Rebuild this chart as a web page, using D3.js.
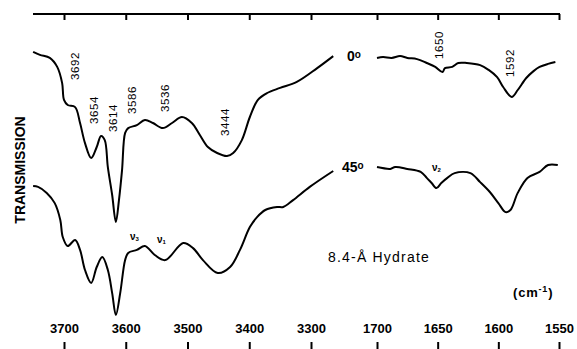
<!DOCTYPE html>
<html>
<head>
<meta charset="utf-8">
<script src="https://cdn.jsdelivr.net/npm/d3@7"></script>
<style>
  body { margin: 0; background: #fff; }
  svg { display: block; font-family: "Liberation Sans", Arial, Helvetica, sans-serif; }
</style>
</head>
<body>
<div class="canvas"></div>
<script>
const width = 577
const height = 349

// wavenumbers (cm-1) and transmission (arbitrary units, 0-100)
const hiWave0 = [3750, 3739, 3723, 3711, 3703, 3700, 3694, 3682, 3674, 3666, 3656, 3647, 3640, 3634, 3629, 3622, 3616, 3611, 3606, 3601, 3596, 3582, 3569, 3556, 3540, 3525, 3509, 3493, 3480, 3467, 3452, 3436, 3426, 3412, 3399, 3386, 3371, 3350, 3323, 3290, 3264]
const hiT0 = [92.7, 91.7, 90.7, 87.7, 82.3, 76.7, 75, 74.3, 69, 62.3, 57.3, 61, 64.7, 63.3, 54.3, 45, 36, 43.3, 53.3, 65.7, 67.3, 68.3, 70, 69, 67.3, 69, 71, 69, 65, 61, 59, 58, 59, 63.3, 71, 76.7, 79, 80.7, 82.7, 87.3, 91.3]

const hiWave45 = [3750, 3742, 3728, 3715, 3706, 3702, 3694, 3682, 3674, 3666, 3656, 3647, 3638, 3629, 3622, 3616, 3609, 3601, 3596, 3582, 3569, 3553, 3536, 3507, 3491, 3475, 3451, 3431, 3415, 3399, 3387, 3374, 3355, 3345, 3329, 3302, 3264]
const hiT45 = [48, 47.7, 45.7, 42.3, 36.7, 31, 28, 30, 26.7, 20, 15.7, 21, 24.3, 20, 12.3, 5, 12.3, 23.3, 25.7, 26.7, 28, 25, 23.3, 29, 27.3, 23.3, 19, 21, 26.7, 34.3, 37.7, 40, 41, 41, 43.3, 47.7, 53]

const loWave0 = [1700, 1695, 1688, 1681, 1675, 1667, 1659, 1652, 1646, 1644, 1638, 1633, 1626, 1615, 1608, 1601, 1596, 1589, 1584, 1577, 1571, 1566, 1559, 1553]
const loT0 = [90.7, 91, 90.7, 91.3, 90.7, 90.3, 89, 87.7, 86, 87.3, 87.7, 89, 89, 88.3, 86.7, 84.3, 81, 77.7, 80, 84, 86.3, 87.7, 88.7, 89.3]

const loWave45 = [1700, 1689, 1685, 1675, 1664, 1659, 1655, 1651, 1647, 1642, 1636, 1623, 1615, 1607, 1600, 1594, 1590, 1584, 1576, 1566, 1559, 1551]
const loT45 = [54.3, 53.7, 54.3, 53.7, 52.7, 50.7, 49, 47.3, 49, 50.7, 52.3, 52.3, 49.3, 46, 42.3, 39.3, 40, 45.7, 50.7, 52.7, 55, 55]

const hiTicks = [3700, 3600, 3500, 3400, 3300]
const loTicks = [1700, 1650, 1600, 1550]

// peak labels: [wavenumber, transmission of label centre, text]
const hiPeaks = [[3682, 88, "3692"], [3652, 73.3, "3654"], [3620, 70.7, "3614"], [3590, 76.7, "3586"], [3537, 77.3, "3536"], [3440, 69.3, "3444"]]
const loPeaks = [[1649, 95, "1650"], [1590, 89, "1592"]]

svg = d3.select(".canvas").append("svg")
    .attr("width", width)
    .attr("height", height)

const xHi = d3.scaleLinear().domain([3700, 3300]).range([64, 311])
const xLo = d3.scaleLinear().domain([1700, 1550]).range([377, 559])
const y = d3.scaleLinear().domain([0, 100]).range([330, 30])

function spectrum(x, waves, vals) {
    const pts = waves.map((w, i) => [w, vals[i]])
    const line = d3.line()
        .x(d => x(d[0]))
        .y(d => y(d[1]))
        .curve(d3.curveCatmullRom.alpha(0.5))
    svg.append("path")
        .datum(pts)
        .attr("d", line)
        .attr("fill", "none")
        .attr("stroke", "#000")
        .attr("stroke-width", 2)
        .attr("stroke-linejoin", "round")
}

spectrum(xHi, hiWave0, hiT0)
spectrum(xHi, hiWave45, hiT45)
spectrum(xLo, loWave0, loT0)
spectrum(xLo, loWave45, loT45)

// top frame line with inward ticks
svg.append("line")
    .attr("x1", 33).attr("x2", 560)
    .attr("y1", 14).attr("y2", 14)
    .attr("stroke", "#000").attr("stroke-width", 2)

function topTicks(x, ticks) {
    const g = svg.append("g")
        .attr("transform", "translate(0,14)")
        .call(d3.axisBottom(x).tickValues(ticks).tickSize(6).tickFormat(""))
    g.select(".domain").remove()
    g.selectAll("line").attr("stroke-width", 2)
}
topTicks(xHi, hiTicks)
topTicks(xLo, loTicks)

// bottom ticks with labels above
function bottomAxis(x, ticks) {
    const g = svg.append("g")
        .attr("transform", "translate(0,349)")
        .call(d3.axisTop(x).tickValues(ticks).tickSize(7).tickPadding(9).tickFormat(d3.format("d")))
    g.select(".domain").remove()
    g.selectAll("line").attr("stroke-width", 2)
    g.selectAll("text")
        .attr("font-size", 13)
        .attr("font-weight", "bold")
        .attr("font-family", "'Liberation Sans', Arial, sans-serif")
        .attr("fill", "#000")
}
bottomAxis(xHi, hiTicks)
bottomAxis(xLo, loTicks)

// vertical peak labels
function peakLabels(x, peaks) {
    svg.selectAll(null)
        .data(peaks)
        .enter()
        .append("text")
        .attr("transform", d => `translate(${x(d[0]) + 4},${y(d[1])}) rotate(-90)`)
        .attr("text-anchor", "middle")
        .attr("font-size", 11.5)
        .attr("letter-spacing", 0.6)
        .text(d => d[2])
}
peakLabels(xHi, hiPeaks)
peakLabels(xLo, loPeaks)

// y axis title
svg.append("text")
    .attr("transform", "translate(25,170) rotate(-90)")
    .attr("text-anchor", "middle")
    .attr("font-size", 14)
    .attr("font-weight", "bold")
    .text("TRANSMISSION")

// angle labels
function angle(xpos, ypos, txt) {
    const t = svg.append("text")
        .attr("x", xpos).attr("y", ypos)
        .attr("font-size", 14)
        .attr("font-weight", "bold")
    t.append("tspan").text(txt)
    t.append("tspan").attr("font-size", 10).attr("dy", -3).text("o")
}
angle(347, 61, "0")
angle(342, 172, "45")

// mode labels
function mode(xpos, ypos, sub) {
    const t = svg.append("text")
        .attr("x", xpos).attr("y", ypos)
        .attr("font-size", 10)
        .attr("font-weight", "bold")
    t.append("tspan").text("ν")
    t.append("tspan").attr("font-size", 6).attr("dy", 1).text(sub)
}
mode(130, 240, "3")
mode(157, 243, "1")
mode(432, 171, "2")

svg.append("text")
    .attr("x", 328).attr("y", 262)
    .attr("font-size", 14)
    .attr("letter-spacing", 1.2)
    .text("8.4-Å Hydrate")

const cm = svg.append("text")
    .attr("x", 513).attr("y", 297)
    .attr("font-size", 13)
    .attr("font-weight", "bold")
    .attr("letter-spacing", 0.8)
cm.append("tspan").text("(cm")
cm.append("tspan").attr("font-size", 9).attr("dy", -5).text("-1")
cm.append("tspan").attr("dy", 5).text(")")
</script>
</body>
</html>
